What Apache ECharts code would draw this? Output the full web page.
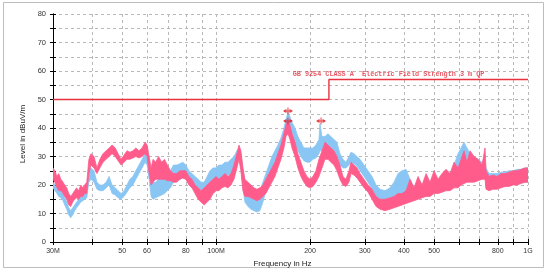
<!DOCTYPE html>
<html><head><meta charset="utf-8">
<script src="https://cdn.jsdelivr.net/npm/echarts@6/dist/echarts.min.js"></script>
<style>html,body{margin:0;padding:0;background:#fff}#c{width:548px;height:273px}</style>
</head><body><div id="c"></div>
<script>
// Frequencies in MHz (log-spaced samples)
const freqMHz = [30,30.4,30.9,31.3,31.8,32.3,32.7,33.2,33.7,34.2,
34.7,35.2,35.7,36.3,36.8,37.4,37.9,38.5,39.1,39.7,
40.6,41.5,42.4,43.4,44.4,45.4,46.4,47.5,48.5,49.6,
50.7,51.8,52.9,54.1,55.3,56.6,57.9,59.2,60.1,61.0,
61.9,62.8,64.0,65.4,66.9,68.3,69.8,71.4,73.0,74.7,
76.6,78.2,80.0,81.8,83.7,85.6,87.6,89.5,91.6,93.6,
95.6,97.8,100.0,102.1,104.4,106.8,109.2,111.6,114.1,116.6,
118.4,120.1,121.9,123.7,126.5,129.4,132.3,135.2,138.2,141.3,
144.4,147.7,151.0,154.4,157.8,161.4,165.0,167.5,170.0,172.5,
175.1,179.0,182.9,187.0,191.2,195.5,200.0,204.4,209.0,213.7,
215.3,218.5,223.4,228.4,233.4,238.7,244.0,249.5,255.1,260.8,
266.7,270.7,276.7,282.9,289.3,298.0,307.0,316.2,325.7,335.4,
348.0,361.1,371.9,383.1,394.6,406.4,418.6,431.2,444.1,457.5,
471.2,485.2,499.8,514.8,530.2,546.1,562.4,579.3,596.7,609.9,
623.5,637.4,651.9,671.3,691.5,712.3,728.2,733.6,750.2,772.6,
795.8,819.6,844.2,869.5,895.6,922.4,950.1,978.6,1000];

// Pink trace (upper / lower edge of the noise band), dBuV/m
const pinkHi = [26,25,23,24,22,21,20,19,17,16,
17,18,19,18,20,19,20,21,29,31,
30,26,29,31,32,33,34,33,31,29,
30.5,32,31.5,32,33,32,33,35,34,30,
26,29,28,30,28,29,27,25,24,24,
25,25,25,23,22,20,19,18,19,20,
21,22,23,22,23,24,23,24,27,31,
34,32,26,22,21,20,19,18.5,19,20,
22,24,26,28,31,34,38,41,42.5,41,
38,35,31,28,25,23,22,23,25,29,
30,32,35,34,33,32,30,27,23,22,
25,28,27,26,24,22,20,18.5,16,15,
15,15.5,16,17,17,18,22,19,23,20,
24,21,25,22,24,25.5,24,28,26,29,
32,28,32,30,29,27,33,25,23,23.5,
23,24,24,24.5,25,25,25.5,26,26];
const pinkLo = [22,21,19,18,18,17,16,15,13,12.5,
14,15,15.5,15,16,16,17,17,24,27,
26,24,26,28,29,30,31,30,28.5,27,
28,29,29,29.5,30,29.5,30,31,30,24,
20,21,22,22,22,22,21.5,21.5,21,21,
22,22.5,22,20,19,17,15,14,13,14,
15,17,18,18,19,19.5,19,20,22,26,
29,25,18,16,16,15.5,15,14.5,15,16,
17,19,21,23,26,29,33,37,38,36,
33,30,26,23,21,19.5,19,19.5,21,23,
24,26,29,29,28,27,25,22,20,19.5,
21,24,23.5,22.5,21,19,17.5,15,12.5,11.5,
11,11.5,12,12.5,13,13.5,14,14.5,15,15.5,
16,16,17,17,17.5,18,18,19,19,20,
20.5,21,21,21,21.5,22,22,18.5,18,18.5,
18.5,19,19.5,19.5,20,20,20.5,21,21];

// Light blue trace (upper / lower edge of the noise band), dBuV/m
const blueHi = [21,20,19,18.5,18,17,15.5,14,12,11,
12,13,14,15,16,16.5,17,18,25,26,
25,21,20,20,21,23,20,19,18,17,
18,20,22,23,25,27,29,31,30,27,
22,21,21,22,22,23,24,25,27,27,
27.5,28,27,25,24,23,22,21,21,23,
25,26,26,27,27,28,28,29,30,32,
33,31,26,21,20,19,18,17,18,21,
24,27,30,32,34,36.5,40,43,45.5,44,
42,40,37,35,33,33,33,33,34,36,
41.5,37,37,38,37,36,35,31,29,28,
30,31.5,31,30,29,27,25,23,20,18.5,
18,19,21,24,25,25.5,22,19,20,19,
20,20,21,21,22,23,24,27,31,33,
35,33,31,30,29,28,28,26,24,24,
24,24.5,24.5,25,25,25.5,25.5,26,26];
const blueLo = [19,18,17,16,15.5,14.5,13,11.5,9.5,8.5,
9.5,11,12,13,14,14.5,15,15.5,21,22,
21,18.5,18,18,19,20,17,16.5,15.5,15,
16,17.5,19,20,22,24,26,28,27,22,
16,15,15.5,16,16.5,17,18,19,21,22,
22,22.5,22,20.5,19,18,17,16.5,17,18,
20,21,22,22,22.5,23,23.5,24,25,28,
30,26,19,14,12.5,11.5,11,10.5,11,14,
18,21,24,27,30,32,35,38,40,38,
36,34,32,30,28.5,28,28,29,29.5,31,
32,32,32,32.5,32,31,30,27,26,26,
27,28,27.5,26.5,25,23,21,18.5,16,15,
15,15.5,16,17,17,17,15,15,15.5,16,
16.5,17,17.5,18,18,18.5,19,20,21,22,
23,23,23,24,24,24,24,19,19,19,
19.5,19.5,20,20,20.5,20.5,21,21,21];

// Axis ticks / labels (MHz)
const xTickMHz = [30,40,50,60,70,80,90,100,200,300,400,500,600,700,800,900,1000];
const xLabelMHz = [30,50,60,80,100,200,300,400,500,800,1000];
const xLabelText = {30:'30M',100:'100M',1000:'1G'};

// Limit line
const limitMHz = [30,230,230,1000];
const limitDb = [50,50,57,57];
const limitText = 'GB 9254 CLASS A  Electric Field Strength 3 m QP';
const limitTextMHz = 176, limitTextDb = 59;

// Peak markers
const peakMHz = [170,170,217];
const peakDb = [46,42.5,42.5];

const lg = f => Math.log10(f);
const XMIN = lg(30), XMAX = 3;
const PINK = '#ff5c8c', BLUE = '#8ac6f4', RED = '#e8323f';
const FONT = 'Liberation Sans, Arial, sans-serif';

function band(name, hi, lo, color) {
  return {
    type: 'custom', name, silent: true, clip: true,
    data: [[lg(freqMHz[0]), lo[0]]],
    renderItem(params, api) {
      if (params.dataIndex !== 0) return;
      const pts = [];
      for (let i = 0; i < freqMHz.length; i++) pts.push(api.coord([lg(freqMHz[i]), hi[i]]));
      for (let i = freqMHz.length - 1; i >= 0; i--) pts.push(api.coord([lg(freqMHz[i]), lo[i]]));
      return { type: 'polygon', shape: { points: pts }, style: { fill: color, stroke: color, lineWidth: 0.8 } };
    }
  };
}

const xCommon = {
  type: 'value', min: XMIN, max: XMAX,
  axisLine: { show: true, lineStyle: { color: '#000', width: 1 } },
};
const yCommon = {
  type: 'value', min: 0, max: 80, interval: 5,
  axisLine: { show: true, lineStyle: { color: '#000', width: 1 } },
};

const chart = echarts.init(document.getElementById('c'), null, { renderer: 'canvas' });
chart.setOption({
  animation: false,
  backgroundColor: '#fff',
  grid: { left: 53, top: 14, width: 475, height: 229 },
  graphic: [{
    type: 'rect', z: -10, silent: true,
    shape: { x: 3.5, y: 2.5, width: 540, height: 265 },
    style: { fill: 'none', stroke: '#bdbdbd', lineWidth: 1 }
  }],
  xAxis: [
    Object.assign({}, xCommon, {
      name: 'Frequency in Hz', nameLocation: 'middle', nameGap: 18,
      nameTextStyle: { fontSize: 8, color: '#222', fontFamily: FONT, padding: [0, 16, 0, 0] },
      axisTick: { show: true, length: 3, customValues: xTickMHz.map(lg), lineStyle: { color: '#000' } },
      axisLabel: {
        show: true, customValues: xLabelMHz.map(lg), margin: 6,
        fontSize: 7, color: '#333', fontFamily: FONT,
        formatter: v => { const f = Math.round(Math.pow(10, v)); return xLabelText[f] || String(f); }
      },
      splitLine: { show: true, lineStyle: { color: '#b8b8b8', type: [3, 3], width: 1 } }
    }),
    Object.assign({}, xCommon, {
      position: 'bottom',
      axisTick: { show: true, inside: true, length: 3, customValues: xTickMHz.map(lg), lineStyle: { color: '#000' } },
      axisLabel: { show: false }, splitLine: { show: false }
    })
  ],
  yAxis: [
    Object.assign({}, yCommon, {
      name: 'Level in dBuV/m', nameLocation: 'middle', nameGap: 20,
      nameTextStyle: { fontSize: 8, color: '#222', fontFamily: FONT, padding: [0, 12, 0, 0] },
      axisTick: { show: true, length: 3, lineStyle: { color: '#000' } },
      axisLabel: { fontSize: 7.5, color: '#333', fontFamily: FONT, margin: 7,
        formatter: v => (v % 10 === 0 ? String(v) : '') },
      splitLine: { show: true, lineStyle: { color: '#b8b8b8', type: [3, 3], width: 1 } }
    }),
    Object.assign({}, yCommon, {
      position: 'left',
      axisTick: { show: true, inside: true, length: 3, lineStyle: { color: '#000' } },
      axisLabel: { show: false }, splitLine: { show: false }
    })
  ],
  series: [
    band('blue', blueHi, blueLo, BLUE),
    band('pink', pinkHi, pinkLo, PINK),
    {
      type: 'line', name: 'limit', symbol: 'none', silent: true,
      data: limitMHz.map((f, i) => [lg(f), limitDb[i]]),
      lineStyle: { color: RED, width: 1.4 }, z: 5
    },
    {
      type: 'scatter', name: 'limitText', silent: true, symbolSize: 0,
      data: [[lg(limitTextMHz), limitTextDb]],
      label: { show: true, position: 'right', distance: 0, formatter: limitText,
        fontFamily: 'Liberation Mono, DejaVu Sans Mono, monospace', fontSize: 6.8, fontWeight: 'bold', color: '#e0303c' },
      z: 6
    },
    {
      type: 'scatter', name: 'peaks', silent: true,
      symbol: 'path://M0,3 L3,1.5 L3,3 L4,3 L4,0 L5,0 L5,3 L6,3 L6,1.5 L9,3 L9,4 L6,5.5 L6,4 L5,4 L5,7 L4,7 L4,4 L3,4 L3,5.5 L0,4 Z',
      symbolSize: [9, 7],
      itemStyle: { color: '#e3141e' },
      data: peakMHz.map((f, i) => [lg(f), peakDb[i]]),
      z: 10
    }
  ]
});
</script>
</body></html>
